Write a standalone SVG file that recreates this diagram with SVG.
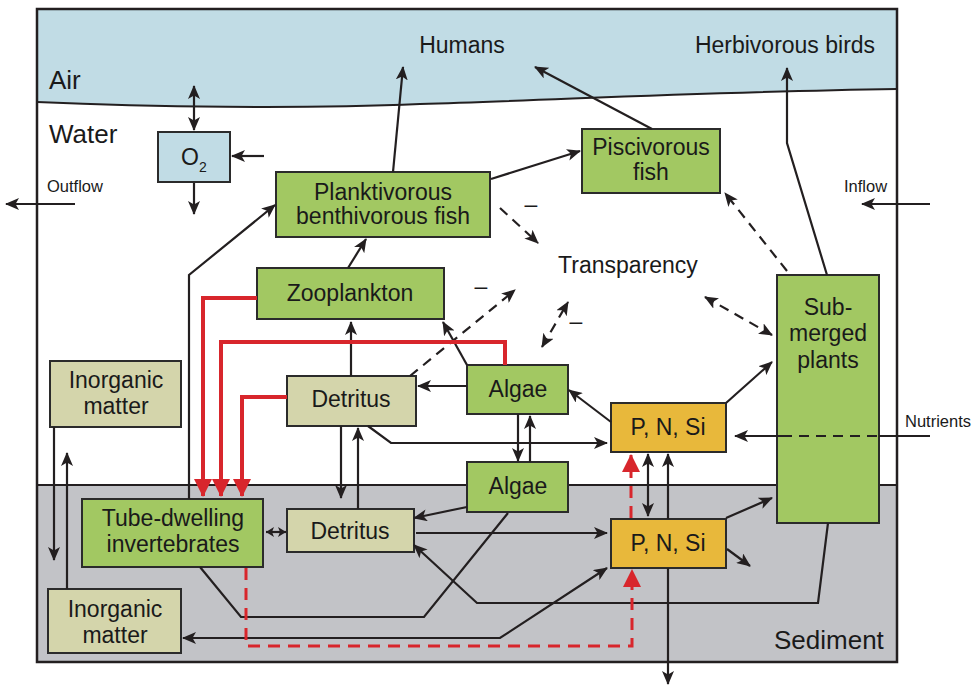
<svg xmlns="http://www.w3.org/2000/svg" width="975" height="685" viewBox="0 0 975 685">
<style>
text{font-family:"Liberation Sans",Arial,sans-serif;fill:#1a1a1a}
.lbl{font-size:23px;text-anchor:middle}
.reg{font-size:26px}
.sm{font-size:16.5px}
.box{stroke:#2b2b2b;stroke-width:2}
.g{fill:#a2c862}
.b{fill:#d4d5ab}
.o{fill:#e8b83b}
.w{fill:#c1dce5}
.c{fill:none;stroke:#231f20;stroke-width:2.2}
.d{stroke-dasharray:10 7}
.r{fill:none;stroke:#d8262c;stroke-width:4}
.rd{fill:none;stroke:#d8262c;stroke-width:3;stroke-dasharray:12 8}
</style>
<defs>
<marker id="ah" viewBox="0 0 14 12" refX="13" refY="6" markerWidth="14" markerHeight="12" markerUnits="userSpaceOnUse" orient="auto-start-reverse"><path d="M0,0 L14,6 L0,12 L3.5,6 z" fill="#231f20"/></marker>
<marker id="as" viewBox="0 0 8 10" refX="8" refY="5" markerWidth="8" markerHeight="10" markerUnits="userSpaceOnUse" orient="auto-start-reverse"><path d="M0,0 L8,5 L0,10 L2,5 z" fill="#231f20"/></marker>
<marker id="rh" viewBox="0 0 18 18" refX="17" refY="9" markerWidth="18" markerHeight="18" markerUnits="userSpaceOnUse" orient="auto"><path d="M0,0 L18,9 L0,18 z" fill="#d8262c"/></marker>
</defs>
<g id="background">
<rect x="37" y="9" width="860" height="653" fill="#ffffff"/>
<path d="M37,9 H897 V89 C700,92 560,100 420,104 C300,109 150,107 37,102 Z" fill="#c1dce5"/>
<path d="M37,102 C150,107 300,109 420,104 C560,100 700,92 897,89" fill="none" stroke="#231f20" stroke-width="2"/>
<rect x="37" y="485" width="860" height="177" fill="#c2c3c7" stroke="#231f20" stroke-width="2"/>
<rect x="37" y="9" width="860" height="653" fill="none" stroke="#231f20" stroke-width="2.5"/>
<text class="reg" x="49" y="89">Air</text>
<text class="reg" x="49" y="143">Water</text>
<text class="reg" x="774" y="649">Sediment</text>
<text class="sm" x="47" y="192">Outflow</text>
<text class="sm" x="844" y="192">Inflow</text>
<text class="sm" x="905" y="427">Nutrients</text>
<text class="lbl" x="462" y="53">Humans</text>
<text class="lbl" x="785" y="53">Herbivorous birds</text>
<text class="lbl" x="628" y="273">Transparency</text>
<text class="lbl" x="531" y="212">–</text>
<text class="lbl" x="481" y="294">–</text>
<text class="lbl" x="576" y="329">–</text>
</g>
<g id="o2"><rect class="box w" x="158" y="132" width="72" height="50"/><text x="181" y="165" style="font-size:23px">O</text><text x="199" y="172" style="font-size:14px">2</text></g>
<g id="planktivorous"><rect class="box g" x="276" y="172" width="214" height="65"/><text class="lbl" x="383" y="200">Planktivorous</text><text class="lbl" x="383" y="224">benthivorous fish</text></g>
<g id="piscivorous"><rect class="box g" x="582" y="129" width="138" height="64"/><text class="lbl" x="651" y="155">Piscivorous</text><text class="lbl" x="651" y="180">fish</text></g>
<g id="zooplankton"><rect class="box g" x="257" y="268" width="187" height="51"/><text class="lbl" x="350" y="301">Zooplankton</text></g>
<g id="submerged"><rect class="box g" x="777" y="275" width="102" height="248"/><text class="lbl" x="828" y="315">Sub-</text><text class="lbl" x="828" y="341">merged</text><text class="lbl" x="828" y="368">plants</text></g>
<g id="inorganic-water"><rect class="box b" x="50" y="361" width="131" height="66"/><text class="lbl" x="116" y="388">Inorganic</text><text class="lbl" x="116" y="414">matter</text></g>
<g id="detritus-water"><rect class="box b" x="287" y="376" width="129" height="50"/><text class="lbl" x="351" y="407">Detritus</text></g>
<g id="algae-water"><rect class="box g" x="467" y="365" width="101" height="49"/><text class="lbl" x="518" y="397">Algae</text></g>
<g id="pnsi-water"><rect class="box o" x="611" y="403" width="115" height="49"/><text class="lbl" x="668" y="435">P, N, Si</text></g>
<g id="algae-sediment"><rect class="box g" x="467" y="462" width="101" height="50"/><text class="lbl" x="518" y="494">Algae</text></g>
<g id="detritus-sediment"><rect class="box b" x="287" y="509" width="127" height="43"/><text class="lbl" x="350" y="539">Detritus</text></g>
<g id="tube-dwelling"><rect class="box g" x="82" y="499" width="181" height="68"/><text class="lbl" x="173" y="526">Tube-dwelling</text><text class="lbl" x="173" y="552">invertebrates</text></g>
<g id="pnsi-sediment"><rect class="box o" x="611" y="519" width="115" height="49"/><text class="lbl" x="668" y="551">P, N, Si</text></g>
<g id="inorganic-sediment"><rect class="box b" x="48" y="589" width="133" height="64"/><text class="lbl" x="115" y="617">Inorganic</text><text class="lbl" x="115" y="643">matter</text></g>
<g id="connectors">
<line class="c" x1="194" y1="86" x2="194" y2="130" marker-start="url(#ah)" marker-end="url(#ah)"/>
<line class="c" x1="264" y1="156" x2="232" y2="156" marker-end="url(#ah)"/>
<line class="c" x1="194" y1="183" x2="194" y2="214" marker-end="url(#ah)"/>
<line class="c" x1="75" y1="204" x2="6" y2="204" marker-end="url(#ah)"/>
<line class="c" x1="930" y1="204" x2="862" y2="204" marker-end="url(#ah)"/>
<line class="c" x1="393" y1="172" x2="403" y2="67" marker-end="url(#ah)"/>
<line class="c" x1="491" y1="179" x2="580" y2="151" marker-end="url(#ah)"/>
<line class="c" x1="652" y1="129" x2="535" y2="67" marker-end="url(#ah)"/>
<polyline class="c" points="827,275 787,143 787,68" marker-end="url(#ah)"/>
<line class="c d" x1="787" y1="271" x2="725" y2="193" marker-end="url(#ah)"/>
<line class="c d" x1="500" y1="208" x2="538" y2="243" marker-end="url(#ah)"/>
<line class="c" x1="348" y1="268" x2="366" y2="239" marker-end="url(#ah)"/>
<line class="c d" x1="410" y1="376" x2="515" y2="290" marker-end="url(#ah)"/>
<line class="c d" x1="542" y1="347" x2="568" y2="302" marker-start="url(#ah)" marker-end="url(#ah)"/>
<line class="c d" x1="705" y1="297" x2="772" y2="335" marker-start="url(#ah)" marker-end="url(#ah)"/>
<line class="c" x1="467" y1="365" x2="443" y2="322" marker-end="url(#ah)"/>
<line class="c" x1="351" y1="376" x2="351" y2="322" marker-end="url(#ah)"/>
<line class="c" x1="467" y1="386" x2="418" y2="386" marker-end="url(#ah)"/>
<line class="c" x1="611" y1="422" x2="569" y2="390" marker-end="url(#ah)"/>
<polyline class="c" points="368,426 391,443 607,443" marker-end="url(#ah)"/>
<line class="c" x1="726" y1="403" x2="772" y2="362" marker-end="url(#ah)"/>
<line class="c" x1="930" y1="436" x2="879" y2="436"/>
<line class="c d" x1="877" y1="436" x2="787" y2="436"/>
<line class="c" x1="787" y1="436" x2="735" y2="436" marker-end="url(#ah)"/>
<line class="c" x1="341" y1="426" x2="341" y2="498" marker-end="url(#ah)"/>
<line class="c" x1="358" y1="509" x2="358" y2="428" marker-end="url(#ah)"/>
<line class="c" x1="518" y1="414" x2="518" y2="461" marker-end="url(#ah)"/>
<line class="c" x1="530" y1="462" x2="530" y2="416" marker-end="url(#ah)"/>
<line class="c" x1="648" y1="454" x2="648" y2="516" marker-start="url(#ah)" marker-end="url(#ah)"/>
<line class="c" x1="668" y1="519" x2="668" y2="454" marker-end="url(#ah)"/>
<line class="c" x1="668" y1="568" x2="668" y2="684" marker-end="url(#ah)"/>
<line class="c" x1="726" y1="518" x2="772" y2="498" marker-end="url(#ah)"/>
<line class="c" x1="727" y1="549" x2="750" y2="566" marker-end="url(#ah)"/>
<line class="c" x1="467" y1="507" x2="414" y2="518" marker-end="url(#ah)"/>
<line class="c" x1="416" y1="533" x2="607" y2="533" marker-end="url(#ah)"/>
<line class="c" x1="266" y1="532" x2="286" y2="532" marker-start="url(#as)" marker-end="url(#as)"/>
<polyline class="c" points="200,567 241,617 424,617 508,513"/>
<polyline class="c" points="828,523 818,603 477,603 414,545" marker-end="url(#ah)"/>
<polyline class="c" points="183,638 500,638 607,568" marker-start="url(#ah)" marker-end="url(#ah)"/>
<line class="c" x1="54" y1="427" x2="54" y2="560" marker-end="url(#ah)"/>
<line class="c" x1="67" y1="589" x2="67" y2="453" marker-end="url(#ah)"/>
<polyline class="c" points="189,499 189,275 275,205" marker-end="url(#ah)"/>
<polyline class="r" points="257,298 203,298 203,496" marker-end="url(#rh)"/>
<polyline class="r" points="505,365 505,342 221,342 221,496" marker-end="url(#rh)"/>
<polyline class="r" points="287,397 242,397 242,496" marker-end="url(#rh)"/>
<polyline class="rd" points="246,568 246,646 632,646 632,570" marker-end="url(#rh)"/>
<polyline class="rd" points="631,518 631,455" marker-end="url(#rh)"/>
</g>
</svg>
